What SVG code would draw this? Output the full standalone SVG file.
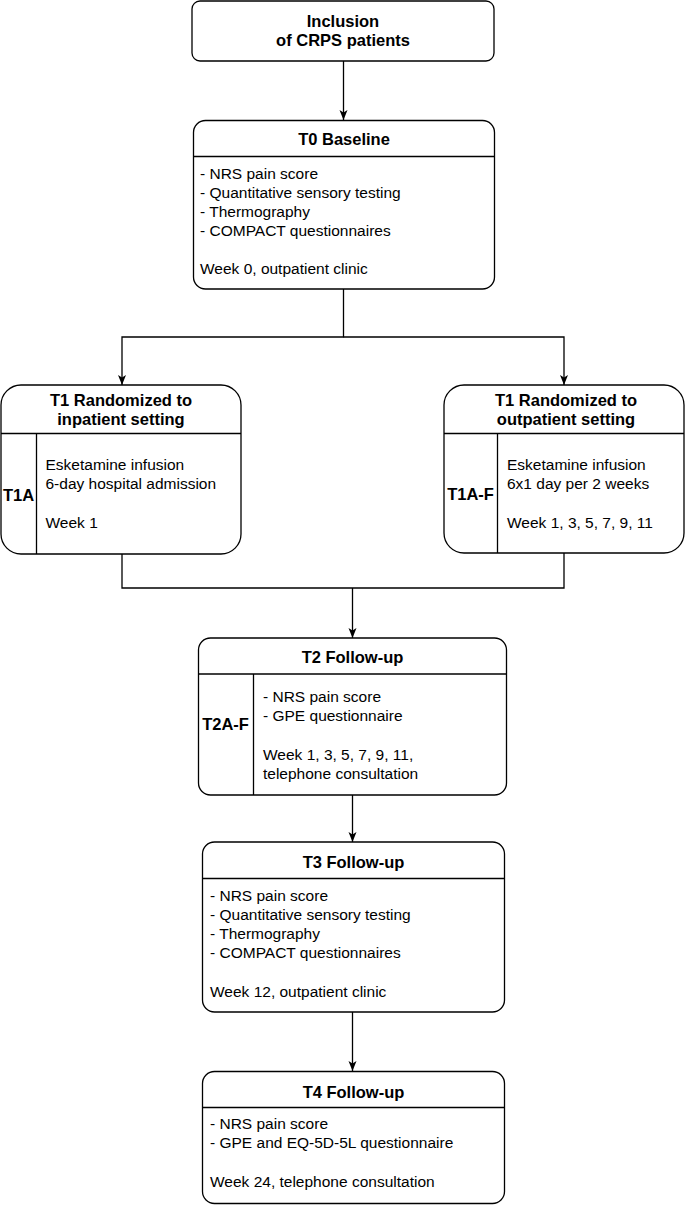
<svg xmlns="http://www.w3.org/2000/svg" width="685" height="1205" viewBox="0 0 685 1205">
<style>
.box{fill:#fff;stroke:#000;stroke-width:1.3}
.div{stroke:#000;stroke-width:1.3;fill:none}
.t{font-family:"Liberation Sans",Arial,sans-serif;font-size:16.5px;font-weight:bold;fill:#000;text-anchor:middle}
.b{font-family:"Liberation Sans",Arial,sans-serif;font-size:15.5px;fill:#000}
.conn{stroke:#000;stroke-width:1.3;fill:none}
</style>
<defs>
<marker id="arr" markerUnits="userSpaceOnUse" markerWidth="12" markerHeight="10" refX="10" refY="4" orient="auto">
<path d="M0,0 L10,4 L0,8 L2.5,4 Z" fill="#000"/>
</marker>
</defs>
<rect width="685" height="1205" fill="#fff"/>
<g id="connectors">
<path class="conn" d="M343.5,61 V120" marker-end="url(#arr)"/>
<path class="conn" d="M343.5,289 V337 H122 V385" marker-end="url(#arr)"/>
<path class="conn" d="M343.5,337 H564 V385" marker-end="url(#arr)"/>
<path class="conn" d="M122,554 V588 H564 V553"/>
<path class="conn" d="M352.5,588 V638" marker-end="url(#arr)"/>
<path class="conn" d="M352.5,795 V842" marker-end="url(#arr)"/>
<path class="conn" d="M352.5,1012 V1071" marker-end="url(#arr)"/>
</g>
<g id="inclusion">
<rect class="box" x="192" y="1" width="302" height="60" rx="8"/>
<text class="t" x="343" y="27">Inclusion</text>
<text class="t" x="343" y="46">of CRPS patients</text>
</g>
<g id="t0">
<rect class="box" x="193.5" y="120.5" width="301" height="168.5" rx="12"/>
<line class="div" x1="193.5" y1="156.5" x2="494.5" y2="156.5"/>
<text class="t" x="344" y="145">T0 Baseline</text>
<text class="b" x="200" y="179">- NRS pain score</text>
<text class="b" x="200" y="198">- Quantitative sensory testing</text>
<text class="b" x="200" y="217">- Thermography</text>
<text class="b" x="200" y="236">- COMPACT questionnaires</text>
<text class="b" x="200" y="274">Week 0, outpatient clinic</text>
</g>
<g id="t1-inpatient">
<rect class="box" x="1" y="385" width="240" height="169" rx="20"/>
<line class="div" x1="1" y1="433.5" x2="241" y2="433.5"/>
<line class="div" x1="36.5" y1="433.5" x2="36.5" y2="554"/>
<text class="t" x="121" y="406">T1 Randomized to</text>
<text class="t" x="121" y="425">inpatient setting</text>
<text class="t" x="18.5" y="500.5">T1A</text>
<text class="b" x="45.5" y="470">Esketamine infusion</text>
<text class="b" x="45.5" y="489">6-day hospital admission</text>
<text class="b" x="45.5" y="528">Week 1</text>
</g>
<g id="t1-outpatient">
<rect class="box" x="444" y="385" width="240" height="168" rx="20"/>
<line class="div" x1="444" y1="433.5" x2="684" y2="433.5"/>
<line class="div" x1="497.5" y1="433.5" x2="497.5" y2="553"/>
<text class="t" x="566" y="406">T1 Randomized to</text>
<text class="t" x="566" y="425">outpatient setting</text>
<text class="t" x="470.5" y="500">T1A-F</text>
<text class="b" x="507" y="470">Esketamine infusion</text>
<text class="b" x="507" y="489">6x1 day per 2 weeks</text>
<text class="b" x="507" y="528">Week 1, 3, 5, 7, 9, 11</text>
</g>
<g id="t2">
<rect class="box" x="198.5" y="638" width="308" height="157" rx="12"/>
<line class="div" x1="198.5" y1="674" x2="506.5" y2="674"/>
<line class="div" x1="253.5" y1="674" x2="253.5" y2="795"/>
<text class="t" x="352.5" y="663">T2 Follow-up</text>
<text class="t" x="225.5" y="730">T2A-F</text>
<text class="b" x="263" y="702">- NRS pain score</text>
<text class="b" x="263" y="721">- GPE questionnaire</text>
<text class="b" x="263" y="760">Week 1, 3, 5, 7, 9, 11,</text>
<text class="b" x="263" y="778.5">telephone consultation</text>
</g>
<g id="t3">
<rect class="box" x="202.5" y="842" width="302" height="170" rx="12"/>
<line class="div" x1="202.5" y1="878.5" x2="504.5" y2="878.5"/>
<text class="t" x="353.5" y="868">T3 Follow-up</text>
<text class="b" x="210" y="900.5">- NRS pain score</text>
<text class="b" x="210" y="920">- Quantitative sensory testing</text>
<text class="b" x="210" y="939">- Thermography</text>
<text class="b" x="210" y="958">- COMPACT questionnaires</text>
<text class="b" x="210" y="997">Week 12, outpatient clinic</text>
</g>
<g id="t4">
<rect class="box" x="202.5" y="1071.5" width="302" height="132" rx="12"/>
<line class="div" x1="202.5" y1="1107.5" x2="504.5" y2="1107.5"/>
<text class="t" x="353.5" y="1097.5">T4 Follow-up</text>
<text class="b" x="210" y="1129">- NRS pain score</text>
<text class="b" x="210" y="1148">- GPE and EQ-5D-5L questionnaire</text>
<text class="b" x="210" y="1187">Week 24, telephone consultation</text>
</g>
</svg>
